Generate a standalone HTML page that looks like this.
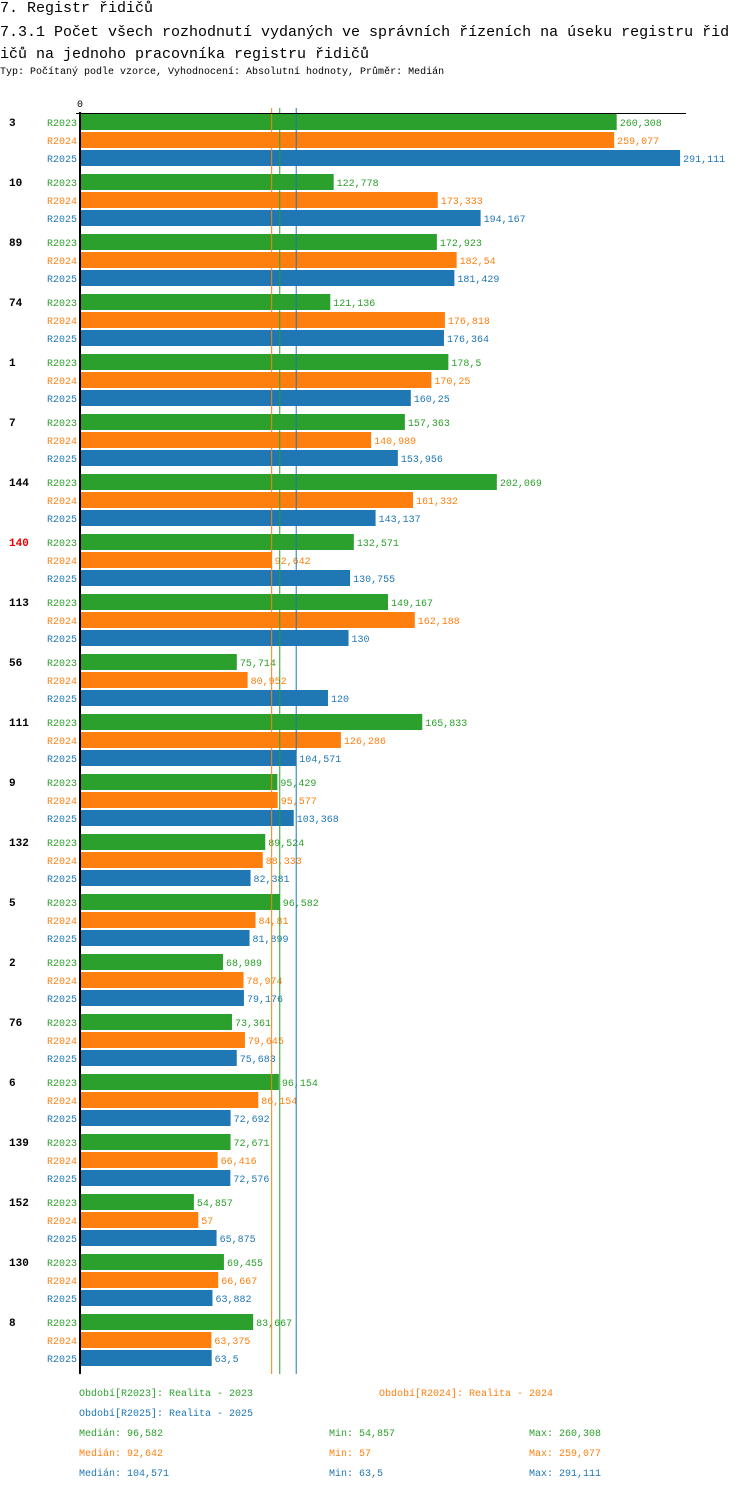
<!DOCTYPE html>
<html><head><meta charset="utf-8">
<style>
body{margin:0;background:#fff;width:750px;height:1494px;overflow:hidden;font-family:"Liberation Mono",monospace;}
.t{position:absolute;left:0;white-space:nowrap;color:#000;}
svg text{font-family:"Liberation Mono",monospace;}
</style></head><body>
<div class="t" style="top:0;font-size:15px">7. Registr řidičů</div>
<div class="t" style="top:22px;font-size:15px;line-height:22px">7.3.1 Počet všech rozhodnutí vydaných ve správních řízeních na úseku registru řid<br>ičů na jednoho pracovníka registru řidičů</div>
<div class="t" style="top:67px;font-size:10px">Typ: Počítaný podle vzorce, Vyhodnocení: Absolutní hodnoty, Průměr: Medián</div>
<svg id="c" width="750" height="1494" style="position:absolute;left:0;top:0"></svg>
<script>
const categories=["3","10","89","74","1","7","144","140","113","56","111","9","132","5","2","76","6","139","152","130","8"];
const highlighted=["140"];
const series=["R2023","R2024","R2025"];
const r2023=[260.308,122.778,172.923,121.136,178.5,157.363,202.069,132.571,149.167,75.714,165.833,95.429,89.524,96.582,68.989,73.361,96.154,72.671,54.857,69.455,83.667];
const r2024=[259.077,173.333,182.54,176.818,170.25,140.989,161.332,92.642,162.188,80.952,126.286,95.577,88.333,84.81,78.974,79.645,86.154,66.416,57,66.667,63.375];
const r2025=[291.111,194.167,181.429,176.364,160.25,153.956,143.137,130.755,130,120,104.571,103.368,82.381,81.899,79.176,75.683,72.692,72.576,65.875,63.882,63.5];
const medians=[96.582,92.642,104.571];
const colors=["#2ca02c","#ff7f0e","#1f77b4"];
const vals=[r2023,r2024,r2025];
const NS="http://www.w3.org/2000/svg";
const svg=document.getElementById('c');
const x0=81,scale=2.058;
const X=v=>x0+v*scale;
const Y=(g,s)=>114+g*60+s*18;
function mk(tag,attrs,txt){const e=document.createElementNS(NS,tag);for(const k in attrs)e.setAttribute(k,attrs[k]);if(txt!==undefined)e.textContent=txt;svg.appendChild(e);return e;}
const fmt=v=>String(v).replace('.',',');
categories.forEach((c,g)=>{
  const l=mk('text',{x:9,y:Y(g,0)+12,'font-size':11,'font-weight':'bold',fill:highlighted.includes(c)?'#e00':'#000'},c);
  
  
  series.forEach((s,i)=>{
    const v=vals[i][g];
    const y=Y(g,i);
    const sl=mk('text',{x:47,y:y+12,'font-size':10,fill:colors[i]},s);
    
    
    const r=mk('rect',{x:x0,y:y,width:X(v)-x0,height:16,fill:colors[i]});
    
    
    const vl=mk('text',{x:X(v)+3,y:y+12,'font-size':10,fill:colors[i]},fmt(v));
    
    
  });
});
[1,0,2].forEach(i=>{
  const m=mk('line',{x1:X(medians[i]),x2:X(medians[i]),y1:108,y2:1374,stroke:colors[i],'stroke-width':1});
  
  
});
const ax=mk('line',{x1:80,x2:80,y1:112,y2:1374,stroke:'#000','stroke-width':2});


const ax2=mk('line',{x1:76,x2:686,y1:113.5,y2:113.5,stroke:'#000','stroke-width':1});


const z=mk('text',{x:77,y:107,'font-size':10,fill:'#000'},'0');


</script>
<div style="position:absolute;left:0;top:0;font-size:10px">
<div class="t" style="left:79px;top:1389px;color:#2ca02c">Období[R2023]: Realita - 2023</div>
<div class="t" style="left:379px;top:1389px;color:#ff7f0e">Období[R2024]: Realita - 2024</div>
<div class="t" style="left:79px;top:1409px;color:#1f77b4">Období[R2025]: Realita - 2025</div>
<div class="t" style="left:79px;top:1429px;color:#2ca02c">Medián: 96,582</div>
<div class="t" style="left:329px;top:1429px;color:#2ca02c">Min: 54,857</div>
<div class="t" style="left:529px;top:1429px;color:#2ca02c">Max: 260,308</div>
<div class="t" style="left:79px;top:1449px;color:#ff7f0e">Medián: 92,642</div>
<div class="t" style="left:329px;top:1449px;color:#ff7f0e">Min: 57</div>
<div class="t" style="left:529px;top:1449px;color:#ff7f0e">Max: 259,077</div>
<div class="t" style="left:79px;top:1469px;color:#1f77b4">Medián: 104,571</div>
<div class="t" style="left:329px;top:1469px;color:#1f77b4">Min: 63,5</div>
<div class="t" style="left:529px;top:1469px;color:#1f77b4">Max: 291,111</div>
</div>
</body></html>
